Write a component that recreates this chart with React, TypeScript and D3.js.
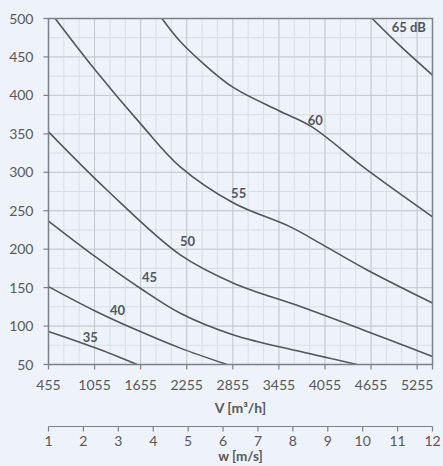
import React from 'react';
import * as d3 from 'd3';

const W = 443;
const H = 466;

// axis ticks
const yTicks = [50, 100, 150, 200, 250, 300, 350, 400, 450, 500];
const xTicks = [455, 1055, 1655, 2255, 2855, 3455, 4055, 4655, 5255];
const wTicks = [1, 2, 3, 4, 5, 6, 7, 8, 9, 10, 11, 12];

// sound level curves: [V m3/h, pressure Pa]
const curve35: [number, number][] = [[455, 93], [1055, 72], [1607, 50]];
const curve40: [number, number][] = [[455, 151.3], [1055, 120], [1650, 92.8], [2171, 71.3], [2779, 50]];
const curve45: [number, number][] = [[455, 236.6], [1055, 191], [1650, 149.2], [2171, 116.7], [2865, 88.5], [3735, 66.8], [4473, 50]];
const curve50: [number, number][] = [[455, 352.7], [1216, 277], [2171, 192.5], [2865, 155.7], [3735, 125.3], [4604, 93], [5455, 60.4]];
const curve55: [number, number][] = [[542, 500], [1063, 433], [1672, 361], [2171, 307], [2865, 260], [3604, 229], [4055, 204], [4604, 173], [5455, 130]];
const curve60: [number, number][] = [[1932, 500], [2171, 470], [2475, 441], [2865, 410], [3455, 380], [3870, 360], [4604, 303], [5455, 242]];
const curve65: [number, number][] = [[4669, 500], [5038, 464], [5455, 426.3]];
const curves = [curve35, curve40, curve45, curve50, curve55, curve60, curve65];

// curve labels
const labelTexts = ['35', '40', '45', '50', '55', '60', '65 dB'];
const labelV = [998, 1354, 1771, 2266, 2931, 3930, 5146];
const labelP = [86, 121, 163, 210, 272.6, 367, 489];

const TEXT = '#595959';
const CURVE = '#51565d';
const AXIS = '#7d8187';
const GRID_MAJOR = '#c6cad0';
const GRID_MINOR = '#dbdfe5';
const BG = '#eef2fa';
const FONT = 'Lato, "Open Sans", sans-serif';

export default function App() {
  const left = 48.5, right = 432.5, top = 18.5, bottom = 364.5;
  const x = d3.scaleLinear().domain([455, 5455]).range([left, right]);
  const y = d3.scaleLinear().domain([50, 500]).range([bottom, top]);
  const w = d3.scaleLinear().domain([1, 12]).range([left, right]);
  const line = d3
    .line<[number, number]>()
    .x((d) => x(d[0]))
    .y((d) => y(d[1]))
    .curve(d3.curveCatmullRom.alpha(0.5));

  const minorX = d3.range(455, 5455 + 1, 200);
  const minorY = d3.range(50, 500 + 1, 25);
  const wY = 426.5;

  return (
    <svg
      width={W}
      height={H}
      viewBox={`0 0 ${W} ${H}`}
      style={{ position: 'absolute', left: 0, top: 0, display: 'block' }}
      fontFamily={FONT}
    >
      <defs>
        <clipPath id="plotClip">
          <rect x={left} y={top} width={right - left} height={bottom - top} />
        </clipPath>
      </defs>
      <rect x={0} y={0} width={W} height={H} fill={BG} />

      {/* minor grid */}
      {minorX.map((v) => (
        <line key={'mx' + v} x1={x(v)} x2={x(v)} y1={top} y2={bottom} stroke={GRID_MINOR} strokeWidth={1} />
      ))}
      {minorY.map((v) => (
        <line key={'my' + v} x1={left} x2={right} y1={y(v)} y2={y(v)} stroke={GRID_MINOR} strokeWidth={1} />
      ))}
      {/* major grid */}
      {xTicks.map((v) => (
        <line key={'Mx' + v} x1={x(v)} x2={x(v)} y1={top} y2={bottom} stroke={GRID_MAJOR} strokeWidth={1} />
      ))}
      {yTicks.map((v) => (
        <line key={'My' + v} x1={left} x2={right} y1={y(v)} y2={y(v)} stroke={GRID_MAJOR} strokeWidth={1} />
      ))}

      {/* curves */}
      <g clipPath="url(#plotClip)">
        {curves.map((c, i) => (
          <path key={'c' + i} d={line(c) || ''} fill="none" stroke={CURVE} strokeWidth={1.6} />
        ))}
      </g>

      {/* frame */}
      <rect x={left} y={top} width={right - left} height={bottom - top} fill="none" stroke={AXIS} strokeWidth={1.5} />

      {/* y ticks */}
      {yTicks.map((v) => (
        <g key={'yt' + v}>
          <line x1={left - 5} x2={left} y1={y(v)} y2={y(v)} stroke={AXIS} strokeWidth={1.2} />
          <text x={33.5} y={y(v)} dy="0.36em" textAnchor="end" fontSize={14} fill={TEXT}>
            {v}
          </text>
        </g>
      ))}

      {/* x ticks */}
      {[...xTicks, 5455].map((v) => (
        <line key={'xt' + v} x1={x(v)} x2={x(v)} y1={bottom} y2={bottom + 5} stroke={AXIS} strokeWidth={1.2} />
      ))}
      {xTicks.map((v) => (
        <text key={'xl' + v} x={x(v)} y={390} textAnchor="middle" fontSize={14} fill={TEXT}>
          {v}
        </text>
      ))}
      <text x={(left + right) / 2} y={413} textAnchor="middle" fontSize={14} fontWeight="bold" fill={TEXT}>
        V [m³/h]
      </text>

      {/* w axis */}
      <line x1={left} x2={right} y1={wY} y2={wY} stroke={AXIS} strokeWidth={1.2} />
      {wTicks.map((v) => (
        <g key={'wt' + v}>
          <line x1={w(v)} x2={w(v)} y1={wY} y2={wY + 5} stroke={AXIS} strokeWidth={1.2} />
          <text x={w(v)} y={446} textAnchor="middle" fontSize={14} fill={TEXT}>
            {v}
          </text>
        </g>
      ))}
      <text x={(left + right) / 2} y={461} textAnchor="middle" fontSize={13.5} fontWeight="bold" fill={TEXT}>
        w [m/s]
      </text>

      {/* curve labels */}
      {labelTexts.map((t, i) => (
        <text
          key={'lb' + i}
          x={x(labelV[i])}
          y={y(labelP[i])}
          dy="0.36em"
          textAnchor="middle"
          fontSize={13}
          fontWeight="bold"
          fill={CURVE}
        >
          {t}
        </text>
      ))}
    </svg>
  );
}
